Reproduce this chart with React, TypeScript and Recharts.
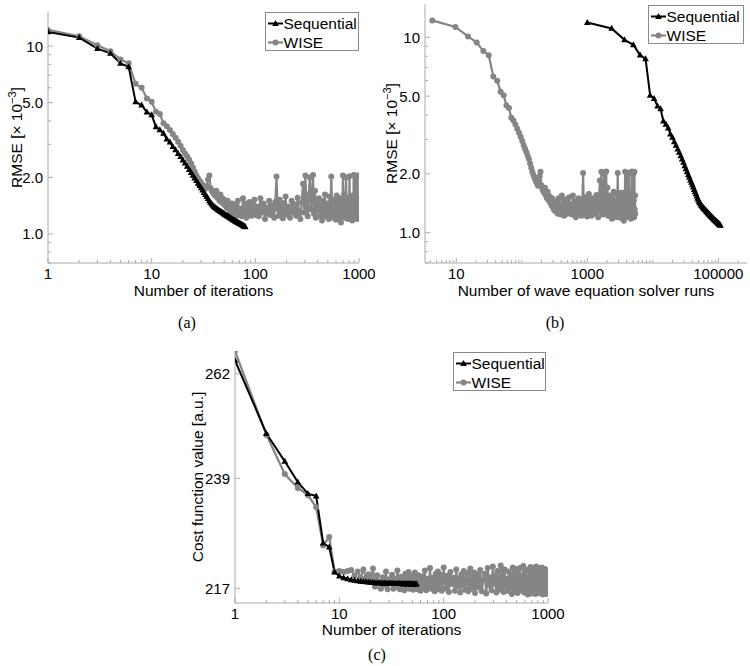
import React from "react";
import { LineChart, Line, XAxis, YAxis, Legend } from "recharts";

const FONT = '"Liberation Sans", Arial, Helvetica, sans-serif';
const SERIF = '"Liberation Serif", "Times New Roman", serif';
const INK = "#000000";
const WISE_GRAY = "#858585";
const FRAME = "#aaaaaa";
const BOX = "#8a8a8a";

// iteration numbers
const seqIterRmse = Array.from({ length: 80 }, (_, i) => i + 1);
const seqIterCost = Array.from({ length: 55 }, (_, i) => i + 1);
const wiseIterHead = Array.from({ length: 60 }, (_, i) => i + 1);
const wiseIterTail = [
  62, 64, 66, 68, 70, 72, 74, 76, 78, 80, 82, 84, 86, 88, 90, 92, 94, 96, 98, 100,
  104, 108, 112, 116, 120, 124, 128, 132, 136, 140, 144, 148, 152, 156, 160, 164, 168, 172, 176, 180, 184, 188, 192, 196, 200,
  208, 216, 224, 232, 240, 248, 256, 264, 272, 280, 288, 296, 304, 312, 320, 328, 336, 344, 352, 360, 368, 376, 384, 392, 400,
  410, 420, 430, 440, 450, 460, 470, 480, 490, 500, 510, 520, 530, 540, 550, 560, 570, 580, 590, 600,
  610, 620, 630, 640, 650, 660, 670, 680, 690, 700, 710, 720, 730, 740, 750, 760, 770, 780, 790, 800,
  810, 820, 830, 840, 850, 860, 870, 880, 890, 900, 910, 920, 930, 940, 950, 960, 970, 980, 990, 1000,
];
const wiseIter = [...wiseIterHead, ...wiseIterTail];

// RMSE [x 10^-3]
const seqRmse = [
  11.9, 11.1, 9.7, 9.15, 8.1, 7.75, 5.05, 4.85, 4.45, 4.3,
  3.72, 3.58, 3.43, 3.2, 3.08, 2.92, 2.8, 2.68, 2.58, 2.47,
  2.38, 2.29, 2.2, 2.12, 2.05, 1.98, 1.92, 1.86, 1.81, 1.76,
  1.71, 1.66, 1.62, 1.58, 1.54, 1.5, 1.47, 1.44, 1.42, 1.4,
  1.38, 1.37, 1.355, 1.34, 1.33, 1.32, 1.31, 1.3, 1.29, 1.28,
  1.27, 1.26, 1.25, 1.245, 1.235, 1.23, 1.22, 1.21, 1.205, 1.2,
  1.19, 1.185, 1.18, 1.17, 1.165, 1.16, 1.155, 1.15, 1.145, 1.14,
  1.135, 1.13, 1.125, 1.12, 1.115, 1.11, 1.105, 1.1, 1.095, 1.09,
];
const wiseRmse = [
  12.2, 11.3, 10.1, 9.4, 8.5, 8.1, 6.3, 6.0, 5.27, 5.05,
  4.47, 4.35, 3.88, 3.75, 3.58, 3.4, 3.25, 3.1, 2.95, 2.8,
  2.68, 2.58, 2.48, 2.38, 2.26, 2.15, 2.05, 1.98, 1.92, 1.87,
  1.82, 1.78, 1.74, 1.8, 1.95, 2.05, 1.75, 1.7, 1.66, 1.62,
  1.6, 1.7, 1.56, 1.58, 1.5, 1.62, 1.48, 1.55, 1.45, 1.52,
  1.42, 1.47, 1.38, 1.5, 1.36, 1.44, 1.32, 1.4, 1.3, 1.45,
  1.28, 1.42, 1.25, 1.5, 1.3, 1.36, 1.24, 1.55, 1.3, 1.45, 1.22, 1.38, 1.27, 1.48, 1.33, 1.25, 1.42, 1.3, 1.52, 1.26,
  1.4, 1.24, 1.55, 1.3, 1.45, 1.2, 1.38, 1.28, 1.5, 1.26, 1.42, 1.34, 1.22, 1.48, 2.02, 1.36, 1.25, 1.52, 1.3, 1.42, 1.21, 1.46, 1.33, 1.58, 1.27,
  1.4, 1.22, 1.5, 1.3, 1.44, 1.25, 1.56, 1.32, 1.2, 1.47, 1.85, 1.3, 2.05, 1.38, 1.24, 1.62, 2.0, 1.35, 1.52, 2.06, 1.28, 1.7, 1.22, 1.48, 1.34,
  1.55, 1.25, 1.42, 1.18, 1.5, 1.3, 1.62, 1.24, 1.45, 1.35,
  1.2, 1.58, 1.28, 2.02, 1.4, 1.22, 1.52, 1.31, 1.46, 1.19,
  1.6, 1.27, 1.43, 1.21, 1.55, 1.33, 1.15, 1.48, 1.25, 2.05,
  1.3, 1.62, 1.22, 1.5, 2.0, 1.28, 1.45, 1.2, 1.56, 1.32,
  2.03, 1.24, 1.52, 1.3, 1.42, 1.18, 1.6, 1.28, 2.06, 1.35,
  1.22, 1.5, 1.98, 1.27, 1.46, 1.2, 2.05, 1.32, 1.55, 1.25,
];

// cost function value [a.u.]
const seqCost = [
  265.1, 248.6, 242.6, 238.2, 235.8, 235.3, 225.8, 225.0, 220.1, 219.3,
  219.0, 218.8, 218.6, 218.5, 218.4, 218.3, 218.25, 218.2, 218.15, 218.1,
  218.07, 218.05, 218.03, 218.01, 217.99, 217.98, 217.96, 217.95, 217.94, 217.93,
  217.92, 217.91, 217.9, 217.89, 217.88, 217.88, 217.87, 217.86, 217.86, 217.85,
  217.85, 217.84, 217.84, 217.83, 217.83, 217.82, 217.82, 217.82, 217.81, 217.81,
  217.81, 217.8, 217.8, 217.8, 217.8,
];
const wiseCost = [
  267.3, 248.3, 239.9, 237.0, 235.5, 233.0, 225.3, 227.0, 220.2, 220.3,
  220.1, 220.3, 220.5, 219.4, 220.2, 219.0, 220.6, 218.9, 219.7, 218.6,
  220.8, 217.3, 219.5, 218.2, 216.9, 219.1, 217.6, 220.2, 216.8, 218.7,
  217.9, 219.6, 216.9, 218.8, 217.3, 220.4, 218.1, 216.8, 219.2, 217.7,
  218.9, 216.6, 219.8, 217.4, 218.5, 220.1, 216.9, 218.7, 217.6, 219.4,
  216.7, 218.3, 220.0, 217.2, 218.9, 216.8, 219.5, 217.8, 218.6, 216.5,
  219.3, 217.1, 220.4, 216.6, 218.8, 217.5, 220.9, 216.9, 219.0, 218.0, 216.4, 219.8, 217.3, 220.2, 216.8, 218.6, 219.6, 216.5, 218.2, 221.0,
  217.0, 219.4, 216.3, 220.1, 217.8, 219.0, 216.5, 220.6, 217.4, 218.9, 216.2, 219.7, 217.6, 220.3, 216.7, 218.5, 219.9, 216.4, 218.1, 220.8, 216.9, 219.2, 217.3, 220.0, 216.1,
  219.6, 217.2, 220.5, 216.4, 218.7, 219.8, 216.0, 220.9, 217.5, 219.1, 216.6, 221.2, 217.8, 219.4, 216.2, 220.3, 218.0, 216.7, 221.4, 217.1, 219.9, 216.3, 220.6, 217.6, 218.8,
  216.5, 220.2, 217.3, 219.6, 215.9, 221.0, 217.8, 216.4, 220.7, 218.2,
  216.1, 219.8, 217.0, 220.9, 216.6, 219.3, 217.5, 221.3, 216.2, 218.9,
  220.4, 216.8, 219.1, 215.8, 220.6, 217.4, 216.3, 221.1, 218.0, 216.0,
  219.7, 217.2, 220.8, 216.5, 219.0, 215.9, 221.2, 217.7, 216.4, 220.3,
  218.4, 216.1, 220.9, 217.0, 219.5, 216.3, 221.0, 217.9, 215.8, 220.5,
  216.9, 219.2, 216.2, 220.7, 217.5, 215.9, 220.1, 218.3, 216.4, 219.6,
];

// wave equation solver runs per iteration (panel b)
const SEQ_RUNS_FIRST = 1000;
const SEQ_RUNS_STEP = 1350;
const WISE_RUNS_STEP = 5.4;
const WISE_RUNS_OFFSET = -1.1;

const iterTicks = [1, 10, 100, 1000];
const runTicks = [10, 1000, 100000];
const rmseTicks = [1, 2, 5, 10];
const costTicks = [217, 239, 262];

type Pt = { x: number; v: number };
const zip = (xs: number[], vs: number[]): Pt[] => vs.map((v, i) => ({ x: xs[i], v }));

function logMinors(lo: number, hi: number, majors: number[]) {
  const out: number[] = [];
  for (let e = Math.floor(Math.log10(lo)); e <= Math.ceil(Math.log10(hi)); e++) {
    for (let m = 1; m < 10; m++) {
      const v = +(m * Math.pow(10, e)).toPrecision(6);
      if (v >= lo && v <= hi && !majors.includes(v)) out.push(v);
    }
  }
  return out;
}

const triangleDot = (props: any) => {
  const { cx, cy, index } = props;
  if (cx == null || cy == null) return <g key={`t${index}`} />;
  return (
    <polygon
      key={`t${index}`}
      points={`${cx},${cy - 3.6} ${cx - 3.3},${cy + 2.4} ${cx + 3.3},${cy + 2.4}`}
      fill={INK}
    />
  );
};

const circleDot = (props: any) => {
  const { cx, cy, index } = props;
  if (cx == null || cy == null) return <g key={`c${index}`} />;
  return <circle key={`c${index}`} cx={cx} cy={cy} r={3} fill={WISE_GRAY} />;
};

function makeTick(side: string, majors: number[], fmt: (v: number) => string) {
  return (props: any) => {
    const { x, y, payload } = props;
    const v = payload.value;
    const major = majors.some((m) => Math.abs(m / v - 1) < 1e-6);
    const len = major ? 5 : 3;
    let l = [x, y, x, y - len];
    if (side === "top") l = [x, y, x, y + len];
    if (side === "left") l = [x, y, x + len, y];
    if (side === "right") l = [x, y, x - len, y];
    return (
      <g>
        <line x1={l[0]} y1={l[1]} x2={l[2]} y2={l[3]} stroke={FRAME} strokeWidth={1} />
        {major && side === "bottom" && (
          <text x={x} y={y + 16} textAnchor="middle" fontSize={15} fontFamily={FONT} fill={INK}>
            {fmt(v)}
          </text>
        )}
        {major && side === "left" && (
          <text x={x - 5} y={y} dy="0.36em" textAnchor="end" fontSize={15} fontFamily={FONT} fill={INK}>
            {fmt(v)}
          </text>
        )}
      </g>
    );
  };
}

function LegendBox({ width, height }: { width: number; height: number }) {
  return (
    <div style={{ width, height, boxSizing: "border-box", border: `1px solid ${BOX}`, background: "#fff" }}>
      <svg width={width - 2} height={height - 2} style={{ display: "block" }}>
        <line x1={2} x2={17} y1={10.5} y2={10.5} stroke={INK} strokeWidth={2} />
        <polygon points="9.5,6.9 6.2,12.9 12.8,12.9" fill={INK} />
        <text x={17.5} y={16} fontSize={15.5} fontFamily={FONT} fill={INK}>Sequential</text>
        <line x1={2} x2={17} y1={29.5} y2={29.5} stroke={WISE_GRAY} strokeWidth={2.2} />
        <circle cx={9.5} cy={29.5} r={3} fill={WISE_GRAY} />
        <text x={17.5} y={35} fontSize={15.5} fontFamily={FONT} fill={INK}>WISE</text>
      </svg>
    </div>
  );
}

type PanelProps = {
  width: number;
  height: number;
  top: number;
  right: number;
  yAxisWidth: number;
  xAxisHeight: number;
  xDomain: [number, number];
  xMajors: number[];
  yDomain: [number, number];
  yMajors: number[];
  yMinors: number[];
  yFormat: (v: number) => string;
  xLabel: string;
  xLabelDy: number;
  yLabel: React.ReactNode;
  yLabelX: number;
  seq: Pt[];
  wise: Pt[];
  legend: { left: number; top: number; width: number; height: number };
};

function Panel(p: PanelProps) {
  const xMinors = logMinors(p.xDomain[0], p.xDomain[1], p.xMajors);
  const xTicks = [...p.xMajors, ...xMinors].sort((a, b) => a - b);
  const yTicks = [...p.yMajors, ...p.yMinors].sort((a, b) => a - b);
  const xFmt = (v: number) => String(v);
  const plotLeft = p.yAxisWidth;
  const plotRight = p.width - p.right;
  const plotTop = p.top;
  const plotBottom = p.height - p.xAxisHeight;
  const axisCommon = {
    type: "number" as const,
    scale: "log" as const,
    allowDataOverflow: true,
    interval: 0,
    tickSize: 0,
    tickMargin: 0,
    tickLine: false,
    axisLine: { stroke: FRAME, strokeWidth: 1 },
  };
  const xLabel = () => (
    <text x={(plotLeft + plotRight) / 2} y={plotBottom + p.xLabelDy} textAnchor="middle" fontSize={15.5} fontFamily={FONT} fill={INK}>
      {p.xLabel}
    </text>
  );
  const cy = (plotTop + plotBottom) / 2;
  const yLabel = () => (
    <text
      x={p.yLabelX}
      y={cy}
      transform={`rotate(-90 ${p.yLabelX} ${cy})`}
      textAnchor="middle"
      fontSize={15.5}
      fontFamily={FONT}
      fill={INK}
    >
      {p.yLabel}
    </text>
  );
  return (
    <LineChart width={p.width} height={p.height} margin={{ top: p.top, right: p.right, bottom: 0, left: 0 }}>
      <XAxis xAxisId="b" dataKey="x" domain={p.xDomain} ticks={xTicks} height={p.xAxisHeight}
        tick={makeTick("bottom", p.xMajors, xFmt)} label={xLabel} {...axisCommon} />
      <XAxis xAxisId="t" orientation="top" dataKey="x" domain={p.xDomain} ticks={xTicks} height={0}
        tick={makeTick("top", p.xMajors, xFmt)} {...axisCommon} />
      <YAxis yAxisId="l" dataKey="v" domain={p.yDomain} ticks={yTicks} width={p.yAxisWidth}
        tick={makeTick("left", p.yMajors, p.yFormat)} label={yLabel} {...axisCommon} />
      <YAxis yAxisId="r" orientation="right" dataKey="v" domain={p.yDomain} ticks={yTicks} width={0}
        tick={makeTick("right", p.yMajors, p.yFormat)} {...axisCommon} />
      <Line xAxisId="b" yAxisId="l" data={p.wise} dataKey="v" type="linear" stroke={WISE_GRAY}
        strokeWidth={2.2} dot={circleDot} activeDot={false} isAnimationActive={false} />
      <Line xAxisId="b" yAxisId="l" data={p.seq} dataKey="v" type="linear" stroke={INK}
        strokeWidth={2} dot={triangleDot} activeDot={false} isAnimationActive={false} />
      <Legend
        layout="vertical"
        align="center"
        verticalAlign="middle"
        wrapperStyle={{ left: p.legend.left, top: p.legend.top, width: p.legend.width, height: p.legend.height }}
        content={() => <LegendBox width={p.legend.width} height={p.legend.height} />}
      />
    </LineChart>
  );
}

const rmseLabel = (
  <>
    RMSE [{"\u00d7"} 10<tspan dy={-6} fontSize={11}>{"\u22123"}</tspan>
    <tspan dy={6}>]</tspan>
  </>
);
const rmseFmt = (v: number) => (v >= 10 ? String(v) : v.toFixed(1));
const rmseMinors = logMinors(0.7, 15, rmseTicks);

export default function App() {
  const seqA = zip(seqIterRmse, seqRmse);
  const wiseA = zip(wiseIter, wiseRmse);
  const seqB = zip(seqIterRmse.map((k) => SEQ_RUNS_FIRST + SEQ_RUNS_STEP * (k - 1)), seqRmse);
  const wiseB = zip(wiseIter.map((k) => WISE_RUNS_STEP * k + WISE_RUNS_OFFSET), wiseRmse);
  const seqC = zip(seqIterCost, seqCost);
  const wiseC = zip(wiseIter, wiseCost);

  return (
    <div style={{ position: "absolute", left: 0, top: 0, width: 750, height: 666, background: "#fff", overflow: "hidden" }}>
      <svg width={750} height={666} style={{ position: "absolute", left: 0, top: 0 }}>
        <text x={187} y={328} textAnchor="middle" fontSize={16} fontFamily={SERIF} fill={INK}>(a)</text>
        <text x={555} y={328} textAnchor="middle" fontSize={16} fontFamily={SERIF} fill={INK}>(b)</text>
        <text x={377} y={660} textAnchor="middle" fontSize={16} fontFamily={SERIF} fill={INK}>(c)</text>
      </svg>
      <div style={{ position: "absolute", left: 0, top: 0 }}>
        <Panel width={375} height={300} top={12} right={16} yAxisWidth={48} xAxisHeight={37}
          xDomain={[1, 1000]} xMajors={iterTicks} yDomain={[0.7, 15.2]} yMajors={rmseTicks} yMinors={rmseMinors}
          yFormat={rmseFmt} xLabel="Number of iterations" xLabelDy={32.5} yLabel={rmseLabel} yLabelX={22}
          seq={seqA} wise={wiseA} legend={{ left: 265, top: 12, width: 94, height: 39 }} />
      </div>
      <div style={{ position: "absolute", left: 375, top: 0 }}>
        <Panel width={375} height={300} top={4} right={3} yAxisWidth={50} xAxisHeight={37}
          xDomain={[3.33, 274000]} xMajors={runTicks} yDomain={[0.7, 14.8]} yMajors={rmseTicks} yMinors={rmseMinors}
          yFormat={rmseFmt} xLabel="Number of wave equation solver runs" xLabelDy={32.5} yLabel={rmseLabel} yLabelX={22}
          seq={seqB} wise={wiseB} legend={{ left: 273, top: 5, width: 96, height: 39 }} />
      </div>
      <div style={{ position: "absolute", left: 180, top: 330 }}>
        <Panel width={390} height={310} top={21} right={22} yAxisWidth={55} xAxisHeight={37}
          xDomain={[1, 1000]} xMajors={iterTicks} yDomain={[214.2, 267.3]} yMajors={costTicks} yMinors={[]}
          yFormat={(v) => String(v)} xLabel="Number of iterations" xLabelDy={31.5} yLabel="Cost function value [a.u.]" yLabelX={23}
          seq={seqC} wise={wiseC} legend={{ left: 273, top: 22, width: 93, height: 39 }} />
      </div>
    </div>
  );
}
